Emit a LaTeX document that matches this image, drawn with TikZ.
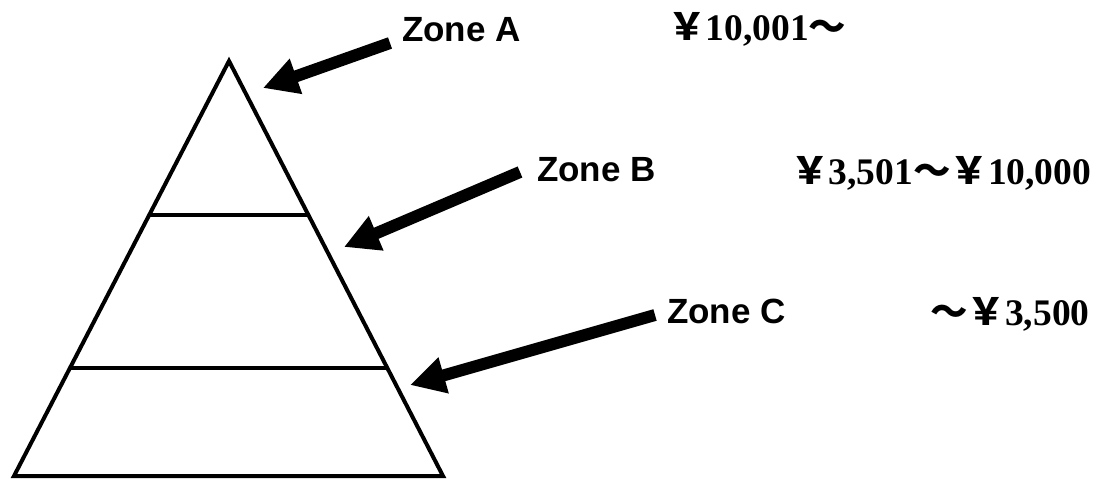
\documentclass[tikz,border=0pt]{standalone}
\usepackage{fontspec}
\setmainfont{Liberation Serif}
\setsansfont{Liberation Sans}
\newfontfamily\jpfont{Noto Sans CJK JP}
\usetikzlibrary{positioning, arrows.meta, calc}
\newcommand{\yenmark}{{\jpfont ￥}}
\newcommand{\wavemark}{{\jpfont ～}}

\begin{document}
\begin{tikzpicture}[x=1pt, y=-1pt,
    zone/.style={font=\sffamily\bfseries\fontsize{35}{40}\selectfont, anchor=base west, inner sep=0pt},
    price/.style={font=\bfseries\fontsize{37.5}{42}\selectfont, anchor=base west, inner sep=0pt},
    pointer/.style={line width=12pt, -{Triangle[length=35pt, width=35pt]}},
    tier/.style={line width=4pt, line join=miter}]
            \useasboundingbox (0,0) rectangle (1103,479);
            % Pyramid
            \coordinate (Top) at (229,61);
            \coordinate (BL) at (14,476);
            \coordinate (BR) at (443,476);
            \draw[tier] (Top) -- (BR) -- (BL) -- cycle;
            \draw[tier] ($(Top)!0.3711!(BL)$) -- ($(Top)!0.3711!(BR)$);
            \draw[tier] ($(Top)!0.7398!(BL)$) -- ($(Top)!0.7398!(BR)$);
            
            % Zone A
            \node[zone] (ZA) at (402,41) {Zone A};
            \node[price] (PA) at (668,40) {\yenmark10,001\wavemark};
            \coordinate (TA) at (390,43);
            \coordinate (HA) at (263,88);
            \draw[pointer] (TA) -- (HA);
            
            % Zone B
            \node[zone] (ZB) at (537,181) {Zone B};
            \node[price] (PB) at (791,184) {\yenmark3,501\wavemark\yenmark10,000};
            \coordinate (TB) at (520,172);
            \coordinate (HB) at (344,247);
            \draw[pointer] (TB) -- (HB);
            
            % Zone C
            \node[zone] (ZC) at (667,323) {Zone C};
            \node[price] (PC) at (930,325) {\wavemark\yenmark3,500};
            \coordinate (TC) at (655,315);
            \coordinate (HC) at (410,385);
            \draw[pointer] (TC) -- (HC);
        \end{tikzpicture}
\end{document}
